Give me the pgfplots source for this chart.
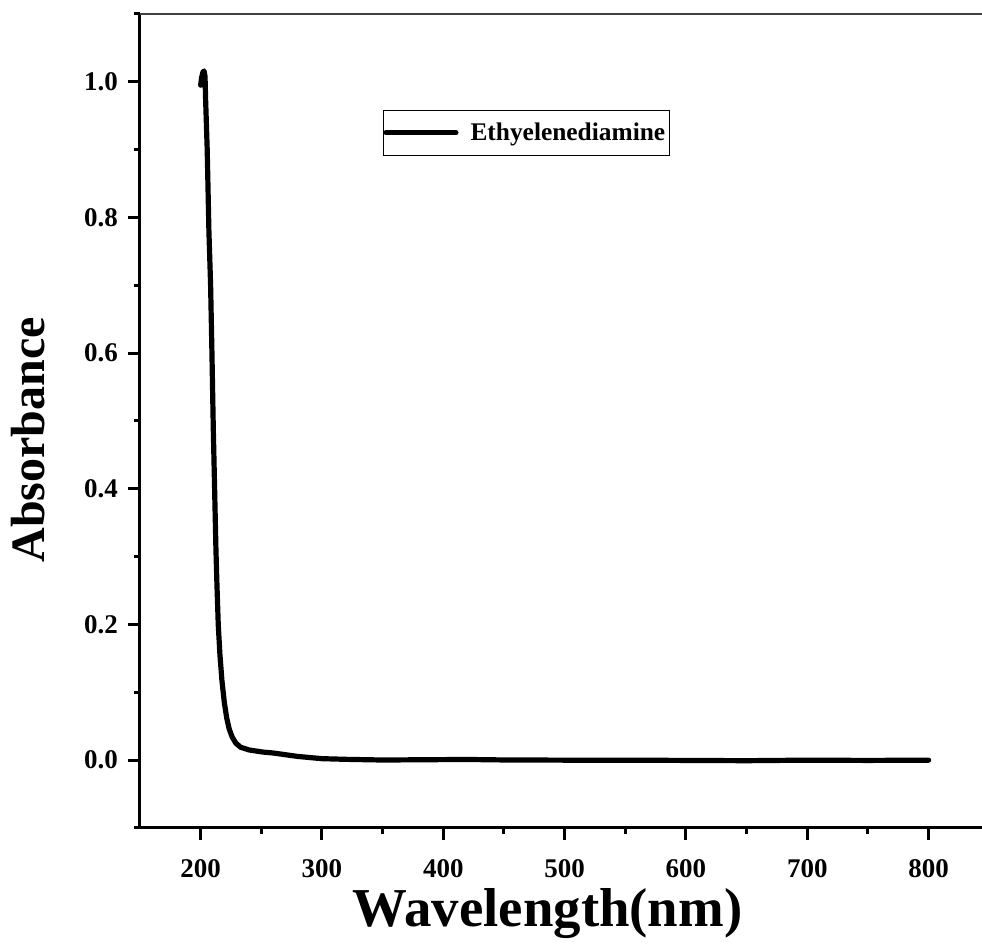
\documentclass[border=0pt]{standalone}
\usepackage{fontspec}
\setmainfont{Liberation Serif}
\usepackage{pgfplots}
\pgfplotsset{compat=1.18}
\begin{document}
\begin{tikzpicture}
\begin{axis}[
  scale only axis,
  width=421pt, height=407pt,
  xmin=150, xmax=844, ymin=-0.1, ymax=1.1,
  axis x line*=bottom, axis y line*=left,
  axis line style={line width=1.5pt, -},
  xtick={200,300,...,800}, minor xtick={250,350,...,850},
  ytick={0,0.2,...,1.0}, minor ytick={-0.1,0.1,0.3,0.5,0.7,0.9,1.1},
  tick align=outside,
  major tick length=6pt, minor tick length=3pt,
  every tick/.style={line width=1.5pt, black},
  /pgf/number format/assume math mode=true,
  /pgf/number format/fixed, /pgf/number format/fixed zerofill, /pgf/number format/precision=1,
  xticklabel style={/pgf/number format/precision=0, /pgf/number format/fixed zerofill=false},
  tick label style={font=\fontsize{13.5}{15}\selectfont\bfseries},
  xticklabel style={yshift=-6pt},
  yticklabel style={xshift=-1.5pt},
  scaled ticks=false,
  xlabel={Wavelength(nm)}, ylabel={Absorbance},
  xlabel style={font=\fontsize{27.4}{31}\selectfont\bfseries, at={(axis description cs:0.484,0)}, anchor=center, yshift=-43pt},
  ylabel style={font=\fontsize{24}{28}\selectfont\bfseries, at={(axis description cs:0,0.477)}, anchor=center, yshift=56pt},
  legend style={at={(0.2886,0.882)}, anchor=north west, draw=black, line width=0.5pt,
    font=\fontsize{12.7}{15}\selectfont\bfseries, inner xsep=0pt, inner ysep=4pt},
  legend cell align=left,
  legend image code/.code={\draw[line width=2.5pt] (0pt,0pt) -- (35pt,0pt);},
  clip=false,
]
\addplot[black, line width=2.6pt, line join=round, line cap=round] coordinates {
(200,0.995) (200.8,1.006) (201.8,1.014) (202.8,1.016) (203.6,1.008) (204.1,0.973)
(205.4,0.90) (206.8,0.78) (208.2,0.70) (209.3,0.60) (210.4,0.49) (211.5,0.40)
(212.6,0.31) (213.4,0.26) (214.5,0.20) (215.9,0.155) (217.5,0.118) (219.5,0.085)
(221.5,0.062) (223.5,0.046) (226,0.034) (229,0.025) (233,0.019) (240,0.015)
(251,0.012) (260,0.0105) (270,0.008) (280,0.0055) (292,0.0035) (300,0.0022)
(320,0.0012) (350,0.0002) (400,0.0008) (420,0.001) (450,0.0003) (500,0.0)
(550,0.0) (600,-0.0004) (650,-0.0008) (700,0.0) (750,-0.0004) (800,0.0)
};
\addlegendentry{\hspace{4pt}Ethyelenediamine}
\draw[line width=0.6pt, black!75] (rel axis cs:0,1) -- (rel axis cs:1,1);
\end{axis}
\pgfresetboundingbox
\path (-70pt,-62pt) rectangle (421pt,414pt);
\end{tikzpicture}
\end{document}
